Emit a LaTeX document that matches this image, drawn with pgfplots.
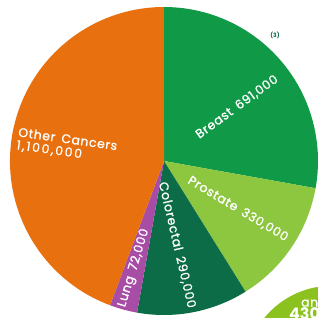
\documentclass[border=0pt]{standalone}
\usepackage{fontspec}
\setmainfont{Poppins}
\newfontfamily\labfont[LetterSpace=5, FakeBold=1.2, WordSpace=1.6]{Poppins}
\newfontfamily\numfont[LetterSpace=14, FakeBold=1.2]{Poppins}
\usepackage{pgfplots}
\pgfplotsset{compat=1.18}
\definecolor{cOrange}{HTML}{E8700E}
\definecolor{cBreast}{HTML}{109A47}
\definecolor{cProstate}{HTML}{8DC63F}
\definecolor{cColorectal}{HTML}{0B6C47}
\definecolor{cLung}{HTML}{A84DA5}
\definecolor{cCircle}{HTML}{8CC220}
% one pie slice, drawn at the data point; start and value in thousands
\pgfdeclareplotmark{pieslice}{%
  \pgfmathsetmacro\pieA{90-360*(\sliceStart/2483)}%
  \pgfmathsetmacro\pieB{\pieA-360*(\sliceValue/2483)}%
  \pgfpathmoveto{\pgfpointorigin}%
  \pgfpathlineto{\pgfpointpolar{\pieA}{154bp}}%
  \pgfpatharc{\pieA}{\pieB}{154bp}%
  \pgfpathclose
  \pgfusepathqfill
}
\newcommand{\lab}{\labfont\fontsize{12.5}{18}\selectfont\color{white}}
\begin{document}
\begin{tikzpicture}
\begin{axis}[at={(0,0)}, anchor=south west, scale only axis,
  width=318bp, height=318bp, xmin=0, xmax=318, ymin=0, ymax=318,
  hide axis, clip=false, set layers]
\addplot[cBreast, only marks, mark=pieslice, mark options={/utils/exec={\def\sliceStart{0}\def\sliceValue{691}}}] coordinates {(164,157)};
\addplot[cProstate, only marks, mark=pieslice, mark options={/utils/exec={\def\sliceStart{691}\def\sliceValue{330}}}] coordinates {(164,157)};
\addplot[cColorectal, only marks, mark=pieslice, mark options={/utils/exec={\def\sliceStart{1021}\def\sliceValue{290}}}] coordinates {(164,157)};
\addplot[cLung, only marks, mark=pieslice, mark options={/utils/exec={\def\sliceStart{1311}\def\sliceValue{72}}}] coordinates {(164,157)};
\addplot[cOrange, only marks, mark=pieslice, mark options={/utils/exec={\def\sliceStart{1383}\def\sliceValue{1100}}}] coordinates {(164,157)};
\addplot[cCircle, only marks, mark=*, mark size=87bp] coordinates {(332,-55)};
\begin{pgfonlayer}{axis foreground}
\node[rotate=36, inner sep=0pt] at (axis cs:237,211) {\lab Breast 691,000};
\node[rotate=-31, inner sep=0pt] at (axis cs:238,109) {\lab Prostate 330,000};
\node[rotate=-77, inner sep=0pt] at (axis cs:177,73) {\lab Colorectal 290,000};
\node[rotate=73, inner sep=0pt] at (axis cs:134,50) {\lab Lung 72,000};
\node[rotate=-8, anchor=north west, align=left, inner sep=0pt] at (axis cs:19,191) {\lab Other Cancers\\[1pt] \lab\numfont 1,100,000};
\node at (axis cs:275,283) {\fontsize{6}{7}\selectfont\color{cColorectal}\textbf{(3)}};
\node[anchor=west, inner sep=0pt] at (axis cs:301,16) {\lab and};
\node[anchor=west, inner sep=0pt] at (axis cs:289,3) {\fontsize{16}{18}\selectfont\color{white}\textbf{430,000}};
\end{pgfonlayer}
\end{axis}
\pgfresetboundingbox
\path[use as bounding box] (0,0) rectangle (318bp,318bp);
\end{tikzpicture}
\end{document}
